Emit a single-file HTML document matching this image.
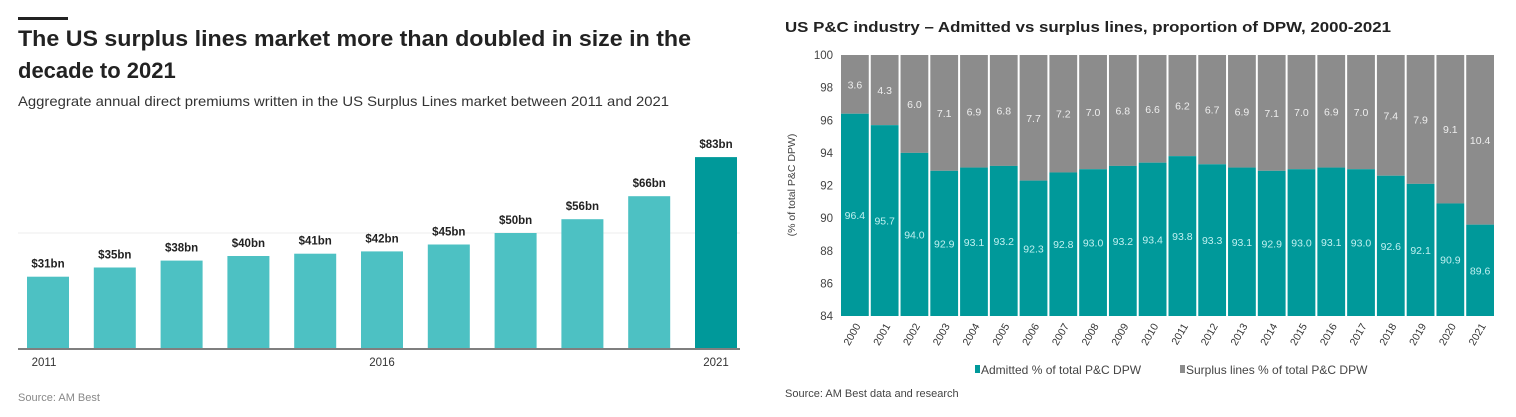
<!DOCTYPE html>
<html><head><meta charset="utf-8"><style>
body{margin:0;width:1516px;height:417px;background:#fff;overflow:hidden;font-family:"Liberation Sans",sans-serif}
svg{position:absolute;left:0;top:0}
</style></head><body>
<svg id="s" width="1516" height="417">
<rect x="18" y="17" width="50" height="3" fill="#222"/>
<text x="18" y="46" font-size="22" font-weight="bold" fill="#222" textLength="673" lengthAdjust="spacingAndGlyphs">The US surplus lines market more than doubled in size in the</text>
<text x="18" y="78" font-size="22" font-weight="bold" fill="#222">decade to 2021</text>
<text x="18" y="106" font-size="14" fill="#333" textLength="651" lengthAdjust="spacingAndGlyphs">Aggregrate annual direct premiums written in the US Surplus Lines market between 2011 and 2021</text>
<text x="18" y="401" font-size="11" fill="#888">Source: AM Best</text>
<text x="785" y="32" font-size="15" font-weight="bold" fill="#222" textLength="606" lengthAdjust="spacingAndGlyphs">US P&amp;C industry – Admitted vs surplus lines, proportion of DPW, 2000-2021</text>
<text x="785" y="397" font-size="11" fill="#444">Source: AM Best data and research</text>
<g id="L"></g><g id="R"></g>
</svg>
<script>
const NS="http://www.w3.org/2000/svg";
function mk(p,t,a,txt){const e=document.createElementNS(NS,t);for(const k in a)e.setAttribute(k,a[k]);if(txt!=null)e.textContent=txt;p.appendChild(e);return e;}
// Left chart data
const lYears=[2011,2012,2013,2014,2015,2016,2017,2018,2019,2020,2021];
const lValues=[31,35,38,40,41,42,45,50,56,66,83];
const lLabels=["$31bn","$35bn","$38bn","$40bn","$41bn","$42bn","$45bn","$50bn","$56bn","$66bn","$83bn"];
const lTicks=["2011","2016","2021"];
// Right chart data
const rYears=["2000","2001","2002","2003","2004","2005","2006","2007","2008","2009","2010","2011","2012","2013","2014","2015","2016","2017","2018","2019","2020","2021"];
const rAdmitted=[96.4,95.7,94.0,92.9,93.1,93.2,92.3,92.8,93.0,93.2,93.4,93.8,93.3,93.1,92.9,93.0,93.1,93.0,92.6,92.1,90.9,89.6];
const rSurplus=[3.6,4.3,6.0,7.1,6.9,6.8,7.7,7.2,7.0,6.8,6.6,6.2,6.7,6.9,7.1,7.0,6.9,7.0,7.4,7.9,9.1,10.4];
const rTicks=[84,86,88,90,92,94,96,98,100];

const L=document.getElementById('L');
const lBase=348,lScale=2.3,lX0=27,lStep=66.8,lW=42;
const ly=v=>lBase-v*lScale;
const lx=i=>lX0+i*lStep;
let g=mk(L,'line',{x1:18,x2:740,y1:ly(50),y2:ly(50),stroke:'#eee'});


lValues.forEach((v,i)=>{
  const last=i===lValues.length-1;
  const r=mk(L,'rect',{x:lx(i),y:ly(v),width:lW,height:v*lScale,fill:last?'#00999a':'#4dc1c3'});
  
  
  const t=mk(L,'text',{x:lx(i)+lW/2,y:ly(v)-9,'font-size':11.5,'font-weight':'bold','text-anchor':'middle',fill:'#222'},lLabels[i]);
  
  
});
g=mk(L,'line',{x1:18,x2:740,y1:lBase+1,y2:lBase+1,stroke:'#555','stroke-width':1.5});


lTicks.forEach(s=>{
  const i=lYears.indexOf(+s);
  const t=mk(L,'text',{x:lx(i)+lW/2-(i===0?4:0),y:366,'font-size':11.5,'text-anchor':'middle',fill:'#333'},s);
  
  
});

const R=document.getElementById('R');
const rTop=55,rBot=316,rMin=84,rMax=100,rX0=841,rStep=(1496-841)/22;
const ry=v=>rBot-(v-rMin)*(rBot-rTop)/(rMax-rMin);
const rx=i=>rX0+i*rStep;
rTicks.forEach(v=>{
  const t=mk(R,'text',{x:833,y:ry(v)+4,'font-size':11.5,'text-anchor':'end',fill:'#444'},v);
  
  
});
let yt=mk(R,'text',{x:0,y:0,'font-size':10.5,'text-anchor':'middle',fill:'#444',transform:'translate(795,185) rotate(-90)'},'(% of total P&C DPW)');


rYears.forEach((y,i)=>{
  const x=rx(i),w=rStep-2;
  const top=ry(rAdmitted[i]);
  let r=mk(R,'rect',{x:x,y:rTop,width:w,height:top-rTop,fill:'#8c8c8c'});
  
  
  r=mk(R,'rect',{x:x,y:top,width:w,height:rBot-top,fill:'#00999a'});
  
  
  let t=mk(R,'text',{x:x+w/2,y:(top+rBot)/2+4,'font-size':10.5,'text-anchor':'middle',fill:'#bff0f0'},rAdmitted[i].toFixed(1));
  
  
  t=mk(R,'text',{x:x+w/2,y:(rTop+top)/2+4,'font-size':10.5,'text-anchor':'middle',fill:'#eee'},rSurplus[i].toFixed(1));
  
  
  t=mk(R,'text',{x:0,y:0,'font-size':10.5,'text-anchor':'end',fill:'#333',transform:`translate(${x+w/2+6},${rBot+10}) rotate(-60)`},y);
  
  
});
let lg=mk(R,'rect',{x:975,y:365,width:5,height:8,fill:'#00999a'});


lg=mk(R,'text',{x:981,y:374,'font-size':12,fill:'#444'},'Admitted % of total P&C DPW');


lg=mk(R,'rect',{x:1180,y:365,width:5,height:8,fill:'#8c8c8c'});


lg=mk(R,'text',{x:1186,y:374,'font-size':12,fill:'#444'},'Surplus lines % of total P&C DPW');


</script>
</body></html>
